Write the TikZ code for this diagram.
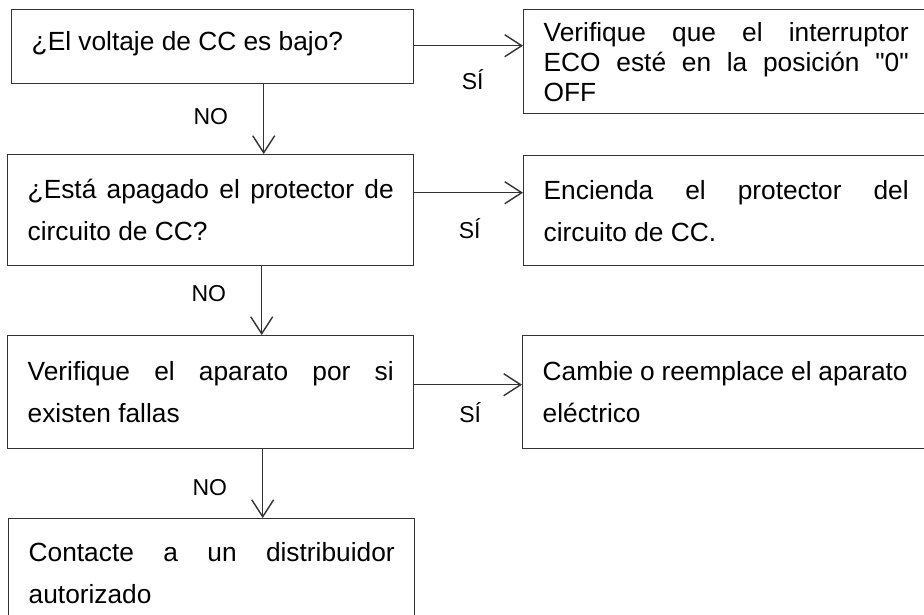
\documentclass[tikz,border=0pt]{standalone}
\usepackage{fontspec}
\setmainfont{Liberation Sans}[Ligatures=TeXOff]
\usetikzlibrary{arrows.meta, positioning}
\tolerance=10000
\hyphenpenalty=10000

\begin{document}
\begin{tikzpicture}[x=1pt, y=-1pt, >={Straight Barb[length=17pt, width=22pt]},
    stepbox/.style={draw=black!80, line width=1.4pt, anchor=north west, inner xsep=20pt, inner ysep=0pt,
      text width=366pt, align=justify, font=\fontsize{26.3}{42}\selectfont},
    arr/.style={->, line width=1.4pt, draw=black!80},
    lbl/.style={inner sep=0pt, font=\fontsize{23}{26}\selectfont}]
  \clip (0,0) rectangle (924,614);
  % questions
  \node[stepbox, text width=362pt, minimum height=74pt] (volt) at (11,9) {¿El voltaje de CC es bajo?\vspace*{6pt}};
  \node[stepbox, minimum height=111pt] (prot) at (7,154) {¿Está apagado el protector de circuito de CC?};
  \node[stepbox, minimum height=113pt] (apar) at (7,335) {Verifique el aparato por si existen fallas};
  \node[stepbox, minimum height=108pt] (dist) at (8,518) {Contacte a un distribuidor autorizado};
  % answers
  \node[stepbox, text width=365pt, minimum height=104pt, font=\fontsize{26.3}{30}\selectfont] (eco) at (523,9)
    {Verifique que el interruptor\linebreak ECO esté en la posición "0"\linebreak OFF};
  \node[stepbox, text width=365pt, minimum height=110pt] (enc) at (523,155) {Encienda el protector del circuito de CC.};
  \node[stepbox, text width=365pt, minimum height=113pt] (camb) at (522,335) {Cambie o reemplace el aparato\linebreak eléctrico};
  % NO branches
  \draw[arr] ([xshift=51pt]volt.south) -- node[lbl, left=35pt, yshift=3pt] {NO} ([xshift=51pt]volt.south |- prot.north);
  \draw[arr] ([xshift=51pt]prot.south) -- node[lbl, left=35pt, yshift=7pt] {NO} ([xshift=51pt]prot.south |- apar.north);
  \draw[arr] ([xshift=52pt]apar.south) -- node[lbl, left=35pt, yshift=-4pt] {NO} ([xshift=52pt]apar.south |- dist.north);
  % SI branches
  \draw[arr] ([yshift=1pt]volt.east) -- node[lbl, xshift=4pt, yshift=-34pt] {SÍ} ([yshift=1pt]volt.east -| eco.west);
  \draw[arr] ([yshift=17.5pt]prot.east) -- node[lbl, xshift=1pt, yshift=-36pt] {SÍ} ([yshift=17.5pt]prot.east -| enc.west);
  \draw[arr] ([yshift=7.5pt]apar.east) -- node[lbl, xshift=2pt, yshift=-28pt] {SÍ} ([yshift=7.5pt]apar.east -| camb.west);
\end{tikzpicture}
\end{document}
